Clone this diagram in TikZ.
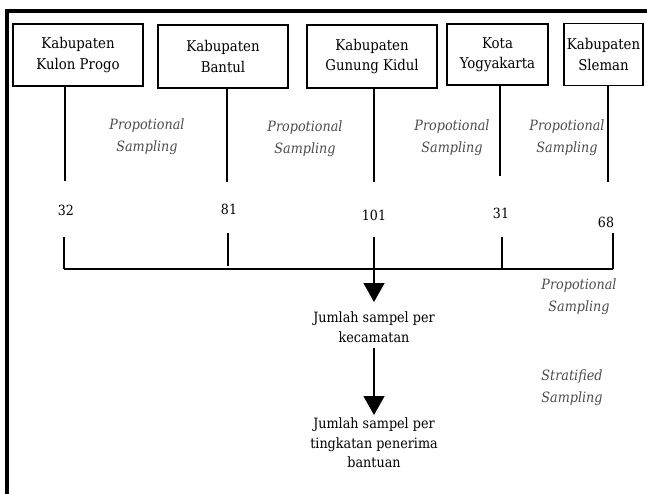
\documentclass[tikz,border=0pt]{standalone}
\usepackage{fontspec}
\setmainfont{DejaVu Serif Condensed}
\usetikzlibrary{arrows.meta}
\begin{document}
\begin{tikzpicture}[x=1pt,y=-1pt,
  box/.style={draw,line width=1.4pt,inner sep=0pt,align=center,font=\fontsize{14.8}{20.5}\selectfont},
  lbl/.style={font=\fontsize{14.2}{22}\selectfont\itshape,text=black!70,align=center,inner sep=0pt},
  num/.style={font=\fontsize{14}{18}\selectfont,inner sep=0pt},
  ln/.style={line width=1.3pt},
  arr/.style={line width=1.3pt,-{Triangle[width=21pt,length=19pt]}},
  res/.style={font=\fontsize{14.2}{19.5}\selectfont,align=center,inner sep=0pt,anchor=north}]
\useasboundingbox (0,0) rectangle (647,493);
\draw[line width=3.5pt] (7,520) -- (7,11) -- (690,11);
% boxes
\node[box,minimum width=130pt,minimum height=62pt] (b1) at (78,55) {Kabupaten\\Kulon Progo};
\node[box,minimum width=130pt,minimum height=63pt] (b2) at (223,56.5) {Kabupaten\\Bantul};
\node[box,minimum width=130pt,minimum height=63pt] (b3) at (372,56.5) {Kabupaten\\Gunung Kidul};
\node[box,minimum width=101pt,minimum height=61pt] (b4) at (497.5,54.5) {Kota\\Yogyakarta};
\node[box,minimum width=79pt,minimum height=62pt] (b5) at (603.5,54.5) {Kabupaten\\Sleman};
% upper lines
\coordinate (u1) at (65,181);
\coordinate (u2) at (227,182);
\coordinate (u3) at (374,182);
\coordinate (u4) at (500,176);
\coordinate (u5) at (608,182);
\draw[ln] (b1.south -| u1) -- (u1);
\draw[ln] (b2.south -| u2) -- (u2);
\draw[ln] (b3.south -| u3) -- (u3);
\draw[ln] (b4.south -| u4) -- (u4);
\draw[ln] (b5.south -| u5) -- (u5);
% labels
\node[lbl] (l1) at (147,137) {Propotional\\Sampling};
\node[lbl] (l2) at (305,139) {Propotional\\Sampling};
\node[lbl] (l3) at (452,138) {Propotional\\Sampling};
\node[lbl] (l4) at (567,138) {Propotional\\Sampling};
% numbers
\node[num] (n32) at (66,210) {32};
\node[num] (n81) at (229,209) {81};
\node[num] (n101) at (374,215) {101};
\node[num] (n31) at (501,213) {31};
\node[num] (n68) at (606,222) {68};
% stubs and bar
\coordinate (hL) at (64,269);
\coordinate (hR) at (613,269);
\coordinate (s1) at (64,237);
\coordinate (s2) at (228,233);
\coordinate (s2e) at (228,266);
\coordinate (s3) at (374,237);
\coordinate (s4) at (502,237);
\coordinate (s5) at (613,233);
\draw[ln] (hL) -- (hR);
\draw[ln] (s1) -- (s1 |- hL);
\draw[ln] (s2) -- (s2e);
\draw[ln] (s3) -- (s3 |- hL);
\draw[ln] (s4) -- (s4 |- hL);
\draw[ln] (s5) -- (s5 |- hL);
% results
\node[res] (j1) at (374,312) {Jumlah sampel per\\kecamatan};
\node[res] (j2) at (374,418) {Jumlah sampel per\\tingkatan penerima\\bantuan};
\draw[arr] (s3 |- hL) -- ([yshift=10pt]j1.north);
\draw[arr] ([yshift=-5pt]j1.south) -- ([yshift=3pt]j2.north);
% right labels
\node[lbl] (r1) at (579,297) {Propotional\\Sampling};
\node[lbl] (r2) at (572,388) {Stratified\\Sampling};
\end{tikzpicture}
\end{document}
